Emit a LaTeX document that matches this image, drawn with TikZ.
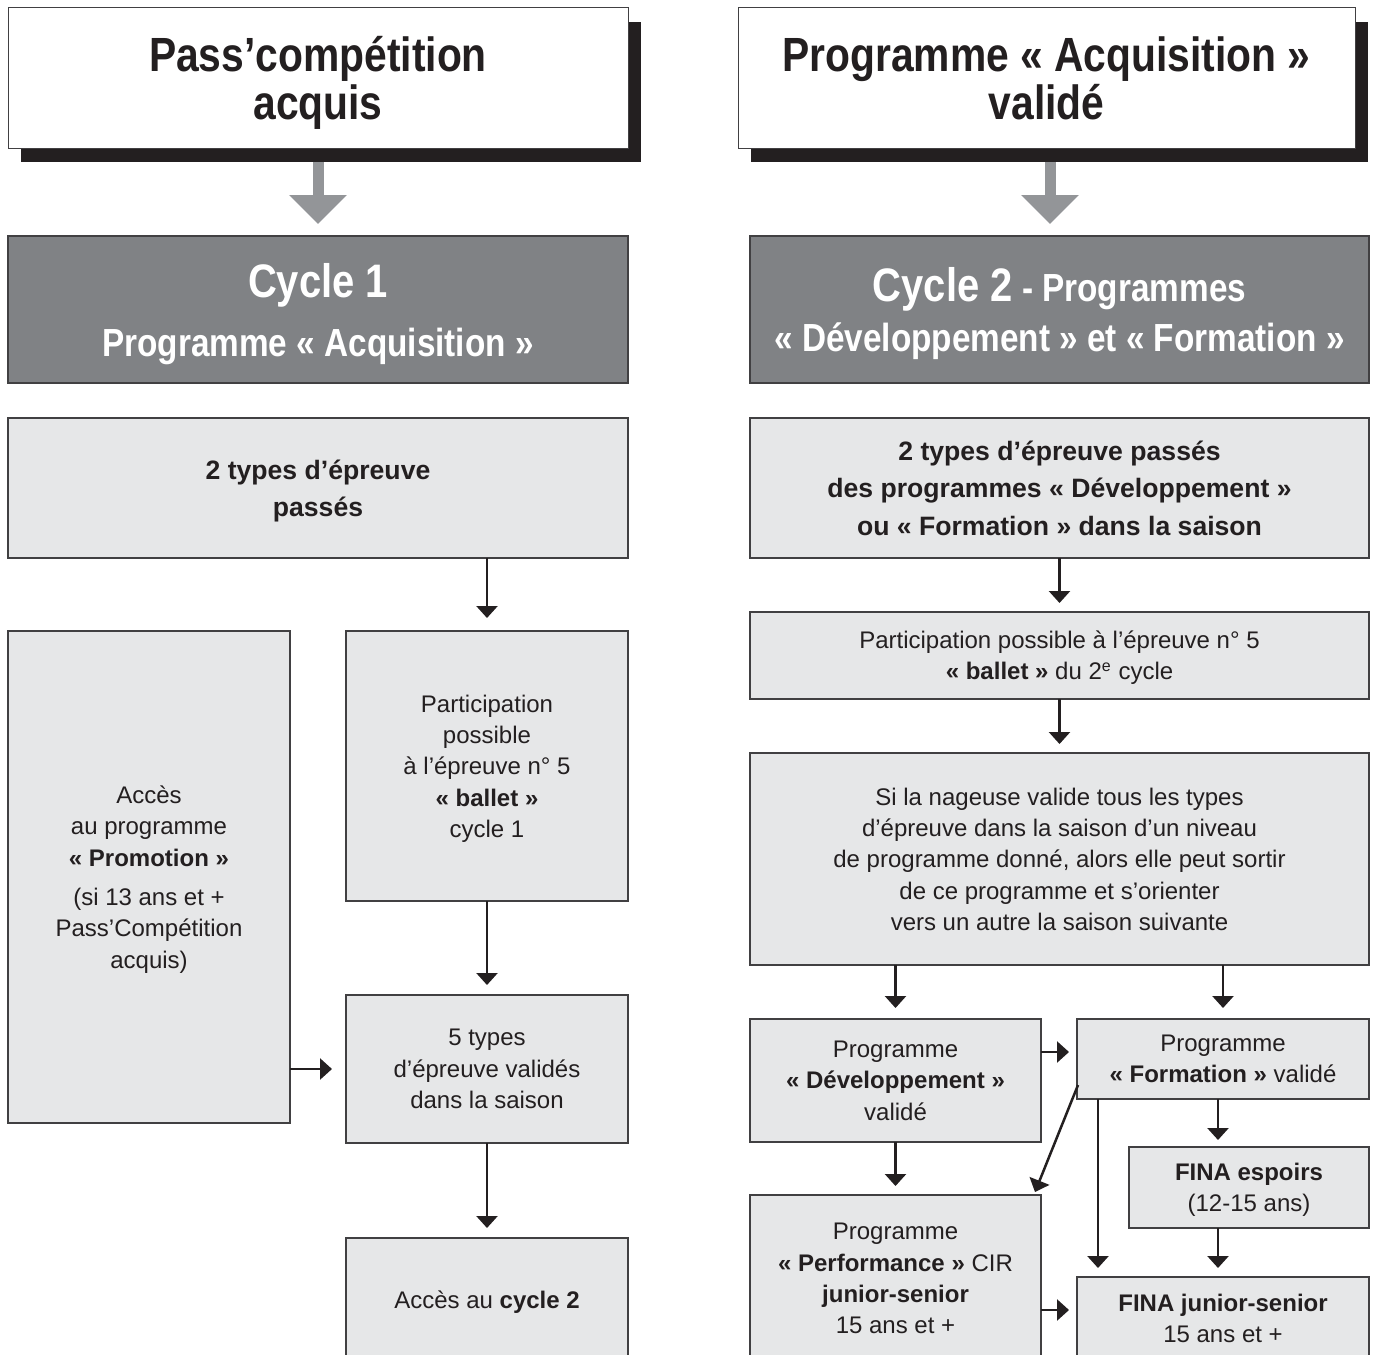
\documentclass[tikz,border=0pt]{standalone}
\usepackage{fontspec}
\setmainfont{Liberation Sans}
\newfontfamily\condfont[FakeStretch=0.85]{Liberation Sans}
\usetikzlibrary{arrows.meta,shadows,calc}
\definecolor{dk}{HTML}{808285}
\definecolor{lt}{HTML}{E6E7E8}
\definecolor{ga}{HTML}{939598}
\definecolor{sh}{HTML}{231F20}
\definecolor{bd}{HTML}{414042}
\definecolor{tx}{HTML}{231F20}
\begin{document}
\begin{tikzpicture}[x=0.5pt,y=-0.5pt,
 every node/.style={inner sep=0pt, outer sep=0pt, anchor=north west, align=center, text=tx, text depth=0pt},
 titlebox/.style={draw=bd, line width=0.5pt, fill=white,
   drop shadow={shadow xshift=6.5pt, shadow yshift=-7pt, fill=sh, opacity=1},
   text height=41.2pt,
   font=\condfont\bfseries\fontsize{24}{24}\selectfont},
 cyclebox/.style={draw=bd, line width=0.6pt, fill=dk, text=white},
 lbox/.style={draw=bd, line width=0.7pt, fill=lt, font=\fontsize{12}{15.65}\selectfont},
 hbox/.style={draw=bd, line width=0.7pt, fill=lt, font=\bfseries\fontsize{13.3}{18.75}\selectfont},
 arr/.style={line width=1.25pt, draw=sh, -{Triangle[length=6pt,width=10.5pt]}},
 bigarr/.style={line width=5.5pt, draw=ga, -{Triangle[length=14.5pt,width=28pt]}, shorten <=7pt, shorten >=6pt},
]
\clip (0,0) rectangle (1375,1354);
\fill[white] (0,0) rectangle (1375,1354);

% titles
\node[titlebox, minimum width=310pt, minimum height=70pt] (t1) at (8,8) {Pass’compétition\\acquis};
\node[titlebox, minimum width=308.5pt, minimum height=70pt] (t2) at (738,8) {Programme «~Acquisition~»\\validé};

% cycle boxes
\node[cyclebox, minimum width=310pt, minimum height=73.5pt,
  font=\condfont\bfseries\fontsize{19.6}{29.5}\selectfont] (c1) at (8,236)
  {{\fontsize{23.5}{24}\selectfont Cycle 1}\\Programme «~Acquisition~»};
\node[cyclebox, minimum width=309.5pt, minimum height=73.5pt,
  font=\condfont\bfseries\fontsize{19.6}{25}\selectfont] (c2) at (750,236)
  {{\fontsize{23.5}{24}\selectfont Cycle 2} - Programmes\\«~Développement~» et «~Formation~»};

\coordinate (g2) at ($(t2.south)+(3.5,0)$);
\draw[bigarr] (t1.south) -- (t1.south |- c1.north);
\draw[bigarr] (g2) -- (g2 |- c2.north);

% left column
\node[hbox, minimum width=310pt, minimum height=70pt] (b1) at (8,418) {2 types d’épreuve\\passés};
\node[lbox, minimum width=141pt, minimum height=246pt] (acc) at (8,631)
  {Accès\\au programme\\{\bfseries «~Promotion~»}\\[4pt](si 13 ans et +\\Pass’Compétition\\acquis)};
\node[lbox, minimum width=141pt, minimum height=135pt] (p1) at (346,631)
  {Participation\\possible\\à l’épreuve n°~5\\{\bfseries «~ballet~»}\\cycle 1};
\node[lbox, minimum width=141pt, minimum height=74pt] (f1) at (346,995)
  {5 types\\d’épreuve validés\\dans la saison};
\node[lbox, minimum width=141pt, minimum height=62pt] (cy2) at (346,1238)
  {Accès au {\bfseries cycle 2}};

\draw[arr, shorten >=6.5pt] (b1.south -| p1.north) -- (p1.north);
\draw[arr, shorten >=5pt] (p1.south) -- (f1.north);
\draw[arr, shorten >=7pt] (acc.east |- f1.west) -- (f1.west);
\draw[arr, shorten >=5pt] (f1.south) -- (cy2.north);

% right column
\node[hbox, minimum width=309.5pt, minimum height=70pt] (b2) at (750,418)
  {2 types d’épreuve passés\\des programmes «~Développement~»\\ou «~Formation~» dans la saison};
\node[lbox, minimum width=309.5pt, minimum height=43.5pt] (pp) at (750,612)
  {Participation possible à l’épreuve n°~5\\{\bfseries «~ballet~»} du 2\textsuperscript{e} cycle};
\node[lbox, minimum width=309.5pt, minimum height=106pt] (si) at (750,753)
  {Si la nageuse valide tous les types\\d’épreuve dans la saison d’un niveau\\de programme donné, alors elle peut sortir\\de ce programme et s’orienter\\vers un autre la saison suivante};
\node[lbox, minimum width=145.5pt, minimum height=61.5pt] (dev) at (750,1019)
  {Programme\\{\bfseries «~Développement~»}\\validé};
\node[lbox, minimum width=146pt, minimum height=40pt] (form) at (1077,1019)
  {Programme\\{\bfseries «~Formation~»} validé};
\node[lbox, minimum width=120pt, minimum height=40.5pt] (esp) at (1129,1147)
  {{\bfseries FINA espoirs}\\(12-15 ans)};
\node[lbox, minimum width=145.5pt, minimum height=83.5pt] (perf) at (750,1195)
  {Programme\\{\bfseries «~Performance~»} CIR\\{\bfseries junior-senior}\\15 ans et +};
\node[lbox, minimum width=146pt, minimum height=41pt] (jun) at (1077,1277)
  {{\bfseries FINA junior-senior}\\15 ans et +};

\coordinate (fw) at ($(form.west)+(0,-7)$);
\coordinate (fe) at ($(form.south)+(-5,0)$);
\coordinate (fv) at ($(form.south west)+(21,0)$);
\coordinate (ds) at ($(form.south west)+(1,-14)$);
\coordinate (de) at ($(perf.north east)+(-6,-3)$);
\coordinate (pj) at ($(jun.west)+(0,-8)$);

\draw[arr, shorten >=4.5pt] (b2.south) -- (b2.south |- pp.north);
\draw[arr, shorten >=4.5pt] (pp.south) -- (pp.south |- si.north);
\draw[arr, shorten >=5.5pt] (si.south -| dev.north) -- (dev.north);
\draw[arr, shorten >=5.5pt] (si.south -| form.north) -- (form.north);
\draw[arr, shorten >=4pt] (dev.east |- fw) -- (fw);
\draw[arr, shorten >=3.5pt] (fe) -- (fe |- esp.north);
\draw[arr] (ds) -- (de);
\draw[arr, shorten >=4.5pt] (fv) -- (fv |- jun.north);
\draw[arr, shorten >=4.5pt] (fe |- esp.south) -- (fe |- jun.north);
\draw[arr, shorten >=4.5pt] (dev.south) -- (perf.north);
\draw[arr, shorten >=4pt] (perf.east |- pj) -- (pj);
\end{tikzpicture}
\end{document}
